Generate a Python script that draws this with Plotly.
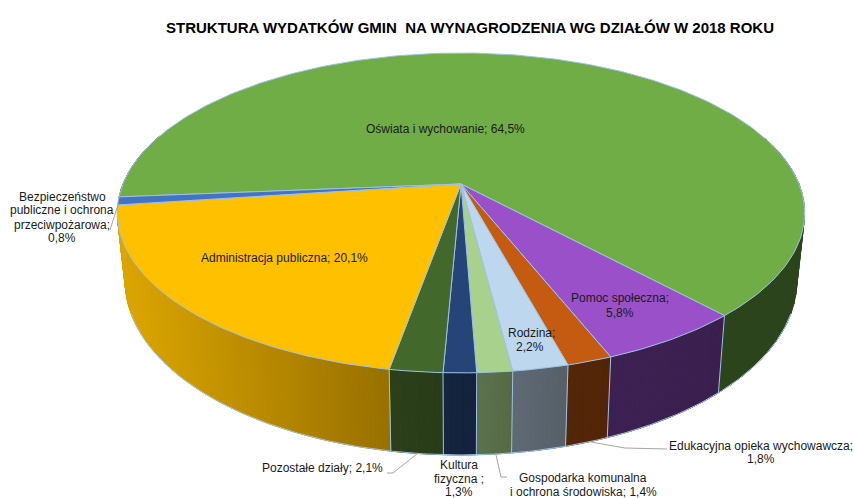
import math
import plotly.graph_objects as go

# --- data (clockwise from the start of the green slice) ---
categories = ["Oświata i wychowanie", "Pomoc społeczna", "Edukacyjna opieka wychowawcza", "Rodzina",
              "Gospodarka komunalna i ochrona środowiska", "Kultura fizyczna", "Pozostałe działy",
              "Administracja publiczna", "Bezpieczeństwo publiczne i ochrona przeciwpożarowa"]
values = [64.5, 5.8, 1.8, 2.2, 1.4, 1.3, 2.1, 20.1, 0.8]
title = "STRUKTURA WYDATKÓW GMIN  NA WYNAGRODZENIA WG DZIAŁÓW W 2018 ROKU"

top_colors = ["#70ad47", "#9a50c8", "#c55a11", "#bdd7ee", "#a9d18e", "#264478", "#43682b", "#ffc000", "#4472c4"]
side_left = ["#2c441c", "#3c2052", "#552608", "#5e6a75", "#5b704c", "#15243f", "#2a3f1a", "#dca600", "#dca600"]
side_right = ["#2c441c", "#3a1f4e", "#512407", "#555f68", "#566a46", "#14223c", "#283c18", "#987000", "#dca600"]

# --- projection of the pie on the page ---
CX, CY, A, B, K = 461, 184, 338, 154.7, 0.181
START = -94.7
DEPTH, SX, SY = 66, 0.977, 1.085
EDGE = "#9dc3e6"


def top_pt(deg):
    t = math.radians(deg)
    X, Y = math.sin(t), -math.cos(t)
    d = 1 - K * Y
    return CX + A * X / d, CY + B * Y / d


def bot_pt(deg):
    x, y = top_pt(deg)
    return CX + (x - CX) * SX, CY + (y - CY) * SY + DEPTH


def hex_mix(c1, c2, t):
    a = [int(c1[i:i + 2], 16) for i in (1, 3, 5)]
    b = [int(c2[i:i + 2], 16) for i in (1, 3, 5)]
    return "rgb(%d,%d,%d)" % tuple(round(p + (q - p) * t) for p, q in zip(a, b))


def is_front(deg):
    return -math.cos(math.radians(deg)) > -0.35


fig = go.Figure()


def poly(xs, ys, fill=None, color="#000", width=1):
    fig.add_trace(go.Scatter(x=xs, y=ys, mode="lines", fill="toself" if fill else None,
                             fillcolor=fill, line=dict(color=color, width=width),
                             hoverinfo="skip", showlegend=False))


total = sum(values)
spans, a0 = [], START
for v in values:
    a1 = a0 + v / total * 360
    spans.append((a0, a1))
    a0 = a1

# side wall
for i, (a0, a1) in enumerate(spans):
    step = 3.0 if side_left[i] == side_right[i] else 0.8
    n = max(1, int(math.ceil((a1 - a0) / step)))
    angs = [a0 + (a1 - a0) * j / n for j in range(n + 1)]
    vis = [a for a in angs if is_front(a)]
    if len(vis) < 2:
        continue
    xmin = min(top_pt(a)[0] for a in vis)
    xmax = max(top_pt(a)[0] for a in vis)
    for p, q in zip(angs[:-1], angs[1:]):
        if not (is_front(p) and is_front(q)):
            continue
        t = ((top_pt(p)[0] + top_pt(q)[0]) / 2 - xmin) / max(xmax - xmin, 1)
        c = hex_mix(side_left[i], side_right[i], t)
        pts = [top_pt(p), top_pt(q), bot_pt(q), bot_pt(p), top_pt(p)]
        poly([u[0] for u in pts], [u[1] for u in pts], fill=c, color=c, width=1)

# bottom rim and wall separators
rim = [a for a in [START + j * 0.5 for j in range(721)] if -math.cos(math.radians(a)) > 0.35]
rim.sort()
poly([bot_pt(a)[0] for a in rim], [bot_pt(a)[1] for a in rim], color=EDGE, width=1)
for a0, a1 in spans:
    if 100 < a0 < 255:
        t, b = top_pt(a0), bot_pt(a0)
        poly([t[0], b[0]], [t[1], b[1]], color=EDGE, width=1)

# top face
for i, (a0, a1) in enumerate(spans):
    n = max(2, int((a1 - a0) / 1.0))
    arc = [top_pt(a0 + (a1 - a0) * j / n) for j in range(n + 1)]
    xs = [CX] + [p[0] for p in arc] + [CX]
    ys = [CY] + [p[1] for p in arc] + [CY]
    poly(xs, ys, fill=top_colors[i], color=EDGE, width=1)

# leader lines
GREY = "#a6a6a6"
leaders = [
    [(118, 205), (110, 230)],
    [(387, 473), (393, 473), (418, 453)],
    [(496, 455), (501, 477), (507, 477)],
    [(591, 442), (625, 448), (667, 449)],
]
shapes = []
for ln in leaders:
    path = "M " + " L ".join("%g,%g" % p for p in ln)
    shapes.append(dict(type="path", path=path, xref="x", yref="y", line=dict(color=GREY, width=1)))

# labels: text, centre x, centre y
labels = [
    ("Oświata i wychowanie; 64,5%", 445, 129),
    ("Administracja publiczna; 20,1%", 284, 258),
    ("Pomoc społeczna;", 620, 298),
    ("5,8%", 620, 313),
    ("Rodzina;", 531, 333),
    ("2,2%", 530, 347),
    ("Bezpieczeństwo", 62, 197),
    ("publiczne i ochrona", 62, 210),
    ("przeciwpożarowa;", 62, 225),
    ("0,8%", 62, 238),
    ("Pozostałe działy; 2,1%", 322, 468),
    ("Kultura", 459, 465),
    ("fizyczna ;", 459, 478.5),
    ("1,3%", 459, 492),
    ("Gospodarka komunalna", 583, 478),
    ("i ochrona środowiska; 1,4%", 583, 492),
    ("Edukacyjna opieka wychowawcza;", 761, 446),
    ("1,8%", 761, 459),
]
FONT = "Liberation Sans, Arial, sans-serif"
annotations = [dict(text=t, x=x, y=y, xref="x", yref="y", showarrow=False, xanchor="center", yanchor="middle",
                    font=dict(family=FONT, size=12, color="#1a1a1a")) for t, x, y in labels]
annotations.append(dict(text="<b>%s</b>" % title, x=470, y=27, xref="x", yref="y", showarrow=False,
                        xanchor="center", yanchor="middle", font=dict(family=FONT, size=15, color="#000")))

fig.update_layout(
    width=854, height=498, margin=dict(l=0, r=0, t=0, b=0),
    paper_bgcolor="white", plot_bgcolor="white", showlegend=False,
    xaxis=dict(range=[0, 854], visible=False, fixedrange=True),
    yaxis=dict(range=[498, 0], visible=False, fixedrange=True),
    shapes=shapes, annotations=annotations,
)
fig.write_html("out.html", config={"displayModeBar": False},
               post_script="document.body.style.margin='0';document.documentElement.style.overflow='hidden';")
